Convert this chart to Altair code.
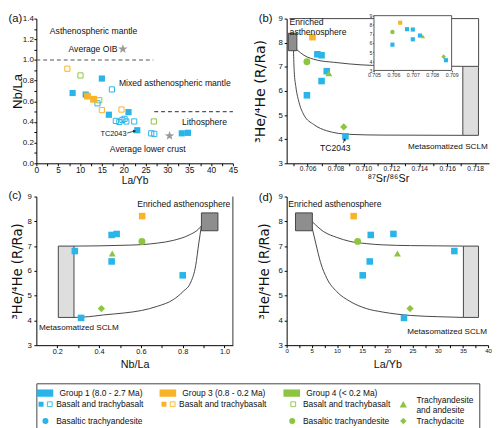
import altair as alt
import pandas as pd

FONT = "Liberation Sans"
VFONT = "DejaVu Sans"
INK = "#111111"
BLUE = "#29B5E9"
ORANGE = "#F8B326"
GREEN = "#8DC540"
STAR_GRAY = "#9A9A9A"
CURVE = "#454545"
BOX_DARK = "#8E8E8E"
BOX_LIGHT = "#DEDEDE"
BOX_EDGE = "#444444"
STAR = ("M0,-1L0.235,-0.324L0.951,-0.309L0.38,0.124L0.588,0.809L0,0.4"
        "L-0.588,0.809L-0.38,0.124L-0.951,-0.309L-0.235,-0.324Z")
SWATCH = "M-1,-0.44L1,-0.44L1,0.44L-1,0.44Z"

# ---------------- (a) La/Yb vs Nb/La ----------------
a_g1f_x = [8.3, 11.3, 15.0, 16.6, 21.1, 23.1, 33.3, 34.7]
a_g1f_y = [0.68, 0.665, 0.82, 0.47, 0.495, 0.32, 0.29, 0.295]
a_g1o_x = [17.3, 14.0, 18.2, 19.0, 19.7, 20.2, 20.6, 22.4, 26.3, 27.0]
a_g1o_y = [0.715, 0.58, 0.41, 0.40, 0.42, 0.43, 0.405, 0.405, 0.29, 0.285]
a_g3f_x = [11.7, 13.1]
a_g3f_y = [0.65, 0.62]
a_g3o_x = [7.1, 15.0, 19.5]
a_g3o_y = [0.915, 0.515, 0.52]
a_g4o_x = [10.1, 14.4, 26.9]
a_g4o_y = [0.85, 0.61, 0.405]
a_star_x = [19.8, 30.5]
a_star_y = [1.105, 0.265]
a_dash_hi_x = [0, 26.8]
a_dash_hi_y = [1.0, 1.0]
a_dash_lo_x = [27.0, 45]
a_dash_lo_y = [0.5, 0.5]
a_lab_c_text = ["Asthenospheric mantle", "Mixed asthenospheric mantle", "Lithosphere", "Average lower crust"]
a_lab_c_x = [13.1, 31.7, 38.5, 25.5]
a_lab_c_y = [1.28, 0.773, 0.40, 0.142]
a_oib_text = ["Average OIB"]
a_oib_x = [18.6]
a_oib_y = [1.105]
a_tc_text = ["TC2043"]
a_tc_x = [17.65]
a_tc_y = [0.28]
a_arrow_x = [20.8, 22.5]
a_arrow_y = [0.293, 0.312]
a_xticks = [0, 2.5, 5, 7.5, 10, 12.5, 15, 17.5, 20, 22.5, 25, 27.5, 30, 32.5, 35, 37.5, 40, 42.5, 45]
a_yticks = [0.0, 0.1, 0.2, 0.3, 0.4, 0.5, 0.6, 0.7, 0.8, 0.9, 1.0, 1.1, 1.2, 1.3, 1.4]

# ---------------- (b) 87Sr/86Sr vs 3He/4He ----------------
b_g1_x = [0.70670, 0.70700, 0.70737, 0.70700, 0.70595, 0.70871]
b_g1_y = [7.52, 7.48, 6.82, 6.41, 5.82, 4.12]
b_g3_x = [0.70635]
b_g3_y = [8.23]
b_circ_x = [0.70595]
b_circ_y = [7.21]
b_tri_x = [0.70752]
b_tri_y = [6.73]
b_dia_x = [0.70859]
b_dia_y = [4.51]
b_upper_x = [0.70523, 0.70574, 0.70667, 0.70784, 0.70901, 0.71064, 0.7140, 0.71712]
b_upper_y = [7.71, 7.48, 7.28, 7.19, 7.12, 7.06, 7.035, 7.02]
b_lower_x = [0.70499, 0.70504, 0.70516, 0.70539, 0.70574, 0.70644, 0.70737, 0.70901, 0.71134, 0.71712]
b_lower_y = [7.67, 6.82, 6.17, 5.52, 5.00, 4.61, 4.35, 4.20, 4.17, 4.16]
b_frame_x = [0.7047, 0.71825, 0.71825]
b_frame_y = [9.0, 9.0, 7.02]
b_enr_box = [0.70462, 0.70523, 7.67, 8.39]
b_sclm_box = [0.71712, 0.71824, 4.16, 7.02]
b_lab_l_text = ["Enriched", "asthenosphere"]
b_lab_l_x = [0.70471, 0.70471]
b_lab_l_y = [8.84, 8.45]
b_lab_r_text = ["Metasomatized SCLM"]
b_lab_r_x = [0.7189]
b_lab_r_y = [3.66]
b_tc_text = ["TC2043"]
b_tc_x = [0.70798]
b_tc_y = [3.64]
b_arrow_x = [0.70856, 0.70866]
b_arrow_y = [3.85, 3.99]
b_xticks = [0.705, 0.706, 0.707, 0.708, 0.709, 0.710, 0.711, 0.712, 0.713, 0.714, 0.715, 0.716, 0.717, 0.718]
he_ticks = [3, 3.5, 4, 4.5, 5, 5.5, 6, 6.5, 7, 7.5, 8, 8.5, 9]
inset_xticks = [0.705, 0.706, 0.707, 0.708, 0.709]
inset_yticks = [3, 4, 5, 6, 7, 8, 9]

# ---------------- (c) Nb/La vs 3He/4He ----------------
c_g1_x = [0.284, 0.314, 0.46, 0.484, 0.46, 0.80]
c_g1_y = [6.80, 4.10, 7.45, 7.49, 6.38, 5.82]
c_g3_x = [0.606]
c_g3_y = [8.21]
c_circ_x = [0.605]
c_circ_y = [7.19]
c_tri_x = [0.463]
c_tri_y = [6.70]
c_dia_x = [0.411]
c_dia_y = [4.48]
c_upper_x = [0.28, 0.40, 0.50, 0.603, 0.679, 0.755, 0.831, 0.875, 0.8895]
c_upper_y = [7.00, 7.01, 7.03, 7.06, 7.12, 7.23, 7.45, 7.68, 7.82]
c_lower_x = [0.28, 0.35, 0.42, 0.52, 0.603, 0.679, 0.755, 0.801, 0.839, 0.862, 0.877, 0.8895]
c_lower_y = [4.12, 4.15, 4.22, 4.30, 4.40, 4.57, 4.84, 5.16, 5.55, 6.21, 7.12, 7.82]
c_enr_box = [0.8895, 0.9685, 7.62, 8.34]
c_sclm_box = [0.205, 0.28, 4.12, 7.0]
c_edge_x = [1.04]
c_edge_y = [3]
c_edge_y2 = [9]
c_lab_r_text = ["Enriched asthenosphere"]
c_lab_r_x = [1.028]
c_lab_r_y = [8.69]
c_lab_l_text = ["Metasomatized SCLM"]
c_lab_l_x = [0.113]
c_lab_l_y = [3.68]
c_xticks = [0.2, 0.3, 0.4, 0.5, 0.6, 0.7, 0.8, 0.9, 1.0]

# ---------------- (d) La/Yb vs 3He/4He ----------------
d_g1_x = [33.3, 23.3, 16.7, 21.2, 16.5, 15.1]
d_g1_y = [6.80, 4.10, 7.45, 7.49, 6.38, 5.82]
d_g3_x = [13.3]
d_g3_y = [8.21]
d_circ_x = [14.1]
d_circ_y = [7.19]
d_tri_x = [22.0]
d_tri_y = [6.70]
d_dia_x = [24.5]
d_dia_y = [4.48]
d_upper_x = [5.1, 7.38, 9.96, 12.56, 15.8, 19.0, 24.6, 30.0, 35.1]
d_upper_y = [7.98, 7.58, 7.35, 7.19, 7.10, 7.05, 7.02, 7.01, 7.00]
d_lower_x = [5.1, 5.77, 6.73, 8.02, 9.96, 12.56, 15.8, 19.0, 24.6, 30.0, 35.1]
d_lower_y = [7.70, 7.12, 6.34, 5.68, 5.16, 4.77, 4.48, 4.34, 4.20, 4.15, 4.12]
d_enr_box = [1.75, 5.1, 7.62, 8.34]
d_sclm_box = [35.1, 38.1, 4.12, 7.0]
d_lab_l_text = ["Enriched asthenosphere"]
d_lab_l_x = [0.33]
d_lab_l_y = [8.69]
d_lab_r_text = ["Metasomatized SCLM"]
d_lab_r_x = [39.8]
d_lab_r_y = [3.53]
d_xticks = [0, 2.5, 5, 7.5, 10, 12.5, 15, 17.5, 20, 22.5, 25, 27.5, 30, 32.5, 35, 37.5, 40]

# ---------------- legend ----------------
leg_head_text = ["Group 1 (8.0 - 2.7 Ma)", "Group 3 (0.8 - 0.2 Ma)", "Group 4 (< 0.2 Ma)"]
leg_head_col = [0, 1, 2]
leg_head_color = [BLUE, ORANGE, GREEN]
leg_item_text = ["Basalt and trachybasalt", "Basalt and trachybasalt", "Basalt and trachybasalt",
                 "Basaltic trachyandesite", "Basaltic trachyandesite", "Trachydacite"]
leg_item_col = [0, 1, 2, 0, 2, 3]
leg_item_row = [1, 1, 1, 2, 2, 2]
leg_wrap_text = ["Trachyandesite\nand andesite"]
leg_wrap_col = [3]
leg_wrap_row = [1]

W_A, W_B, W_C, W_D = 201, 207, 201, 206
H_TOP, H_BOT = 148, 152
LEG_W, LEG_H = 453, 46
TAG_X = -28.5
IN_TOP, IN_BOT = -3, 53


def axis(values, expr, title, lsize, tsize, fmt, tfont=FONT, tpad=0, lpad=1, tick=2.5, **kw):
    return alt.Axis(values=values, labelExpr=expr, format=fmt, title=title,
                    labelFont=FONT, labelFontSize=lsize, titleFont=tfont, titleFontSize=tsize,
                    titleFontWeight="normal", titlePadding=tpad, labelPadding=lpad,
                    tickSize=tick, labelFlush=False, labelOverlap=False, grid=False,
                    domainColor="black", tickColor="black", labelColor=INK,
                    titleColor=INK, **kw)


def xy(xs, ys, xax, yax):
    return dict(x=alt.X("x:Q", scale=xs, axis=xax), y=alt.Y("y:Q", scale=ys, axis=yax))


def points(xv, yv, e, shape, color, size, filled=True, sw=1.0):
    d = pd.DataFrame({"x": xv, "y": yv})
    if filled:
        m = alt.Chart(d).mark_point(shape=shape, filled=True, color=color, size=size, opacity=1)
    else:
        m = alt.Chart(d).mark_point(shape=shape, filled=False, color=color, size=size,
                                    opacity=1, strokeWidth=sw)
    return m.encode(**e)


def line(xv, yv, e, color=CURVE, width=1.0, dash=None, interp="monotone"):
    d = pd.DataFrame({"x": xv, "y": yv, "i": list(range(len(xv)))})
    kw = dict(color=color, strokeWidth=width, interpolate=interp)
    if dash:
        kw["strokeDash"] = dash
    return alt.Chart(d).mark_line(**kw).encode(order="i:Q", **e)


def box(b, e, fill, stroke=BOX_EDGE):
    d = pd.DataFrame({"x": [b[0]], "x2": [b[1]], "y": [b[2]], "y2": [b[3]]})
    return alt.Chart(d).mark_rect(fill=fill, stroke=stroke, strokeWidth=1).encode(
        x2="x2:Q", y2="y2:Q", **e)


def label(texts, xv, yv, e, align="center", size=8.8):
    d = pd.DataFrame({"x": xv, "y": yv, "t": texts})
    return alt.Chart(d).mark_text(align=align, baseline="middle", font=FONT, fontSize=size,
                                  color=INK).encode(text="t:N", **e)


def tag(t, dy):
    return alt.Chart(pd.DataFrame({"t": [t]})).mark_text(
        align="left", baseline="middle", font=FONT, fontSize=11.5, color=INK).encode(
        text="t:N", x=alt.value(TAG_X), y=alt.value(dy))


def arrowhead(xv, yv, e, angle, size=12):
    d = pd.DataFrame({"x": xv, "y": yv})
    return alt.Chart(d).mark_point(shape="triangle-up", filled=True, color="#222", size=size,
                                   angle=angle, opacity=1).encode(**e)


def sym_layers(e, g1x, g1y, g3x, g3y, cx, cy, tx, ty, dx_, dy_, sq=45, sc=1.0):
    return [
        points(g1x, g1y, e, "square", BLUE, sq * sc),
        points(g3x, g3y, e, "square", ORANGE, sq * sc),
        points(cx, cy, e, "circle", GREEN, 50 * sc),
        points(tx, ty, e, "triangle-up", GREEN, 50 * sc),
        points(dx_, dy_, e, "diamond", GREEN, 55 * sc),
    ]


Y_EXPR = "datum.value % 1 === 0 ? datum.label : ''"

# ---- panel a ----
xs_a = alt.Scale(domain=[0, 45], nice=False, zero=False)
ys_a = alt.Scale(domain=[0, 1.4], nice=False, zero=False)
ea = xy(xs_a, ys_a,
        axis(a_xticks, "datum.value % 5 === 0 ? datum.label : ''", "La/Yb", 8.5, 10.5, "d",
             tpad=2, lpad=0),
        axis(a_yticks, "round(datum.value * 10) % 2 === 0 ? datum.label : ''", "Nb/La", 8.2,
             13.5, ".1f", tpad=-2.2, lpad=0.5))
panel_a = alt.layer(
    line(a_dash_hi_x, a_dash_hi_y, ea, color="#555", width=1.1, dash=[4, 3], interp="linear"),
    line(a_dash_lo_x, a_dash_lo_y, ea, color="#555", width=1.1, dash=[4, 3], interp="linear"),
    points(a_g3o_x, a_g3o_y, ea, "square", ORANGE, 28, filled=False),
    points(a_g4o_x, a_g4o_y, ea, "square", GREEN, 28, filled=False),
    points(a_g1o_x, a_g1o_y, ea, "square", BLUE, 28, filled=False),
    points(a_g1f_x, a_g1f_y, ea, "square", BLUE, 40),
    points(a_g3f_x, a_g3f_y, ea, "square", ORANGE, 48),
    points(a_star_x, a_star_y, ea, STAR, STAR_GRAY, 100),
    label(a_lab_c_text, a_lab_c_x, a_lab_c_y, ea),
    label(a_oib_text, a_oib_x, a_oib_y, ea, align="right"),
    label(a_tc_text, a_tc_x, a_tc_y, ea, size=7.5),
    line(a_arrow_x, a_arrow_y, ea, color="#222", width=0.8, interp="linear"),
    arrowhead(a_arrow_x[1:], a_arrow_y[1:], ea, 75),
    tag("(a)", 0),
).properties(width=W_A, height=H_TOP)

# ---- panel b ----
xs_b = alt.Scale(domain=[0.7045, 0.719], nice=False, zero=False)
ys_b = alt.Scale(domain=[3, 9], nice=False, zero=False)
eb = xy(xs_b, ys_b,
        axis(b_xticks, "round(datum.value * 1000) % 2 === 0 ? datum.label : ''",
             "\u2078\u2077Sr/\u2078\u2076Sr", 6.8, 11, ".3f", tpad=0.8, lpad=0),
        axis(he_ticks, Y_EXPR, "\u00b3He/\u2074He (R/Ra)", 8, 14.5, "d", tfont=VFONT,
             tpad=11, lpad=2))
b_main = alt.layer(
    line(b_frame_x, b_frame_y, eb, interp="linear"),
    line(b_upper_x, b_upper_y, eb),
    line(b_lower_x, b_lower_y, eb),
    box(b_enr_box, eb, BOX_DARK),
    box(b_sclm_box, eb, BOX_LIGHT),
    *sym_layers(eb, b_g1_x, b_g1_y, b_g3_x, b_g3_y, b_circ_x, b_circ_y, b_tri_x, b_tri_y,
                b_dia_x, b_dia_y),
    label(b_lab_l_text, b_lab_l_x, b_lab_l_y, eb, align="left"),
    label(b_lab_r_text, b_lab_r_x, b_lab_r_y, eb, align="right", size=8.3),
    label(b_tc_text, b_tc_x, b_tc_y, eb, size=8.8),
    line(b_arrow_x, b_arrow_y, eb, color="#222", width=0.8, interp="linear"),
    arrowhead(b_arrow_x[1:], b_arrow_y[1:], eb, 22, size=10),
    tag("(b)", 0),
)
xs_in = alt.Scale(domain=[0.705, 0.709], range=[89.3, 168.7], nice=False, zero=False)
ys_in = alt.Scale(domain=[3, 9], range=[IN_BOT, IN_TOP], nice=False, zero=False)
in_ax_common = dict(labelFont=FONT, labelFontSize=5.3, labelPadding=0.5, tickSize=1.5,
                    labelFlush=False, labelOverlap=False, grid=False, domain=False,
                    tickColor="#444", labelColor="#333", title=None)
ein = dict(
    x=alt.X("x:Q", scale=xs_in, axis=alt.Axis(values=inset_xticks, format=".3f", orient="bottom",
                                              offset=-(H_TOP - IN_BOT), **in_ax_common)),
    y=alt.Y("y:Q", scale=ys_in, axis=alt.Axis(values=inset_yticks, format="d", orient="left",
                                              offset=-89.3, **in_ax_common)))
b_inset = alt.layer(
    box([0.705, 0.709, 3, 9], ein, "white", stroke="#555"),
    *sym_layers(ein, b_g1_x, b_g1_y, b_g3_x, b_g3_y, b_circ_x, b_circ_y, b_tri_x, b_tri_y,
                b_dia_x, b_dia_y, sc=0.4),
)
panel_b = alt.layer(b_main, b_inset).resolve_scale(x="independent", y="independent").properties(
    width=W_B, height=H_TOP)

# ---- panel c ----
xs_c = alt.Scale(domain=[0.1, 1.04], nice=False, zero=False)
ys_c = alt.Scale(domain=[3, 9], nice=False, zero=False)
ec = xy(xs_c, ys_c,
        axis(c_xticks, "round(datum.value * 10) % 2 === 0 ? datum.label : ''", "Nb/La", 7.5, 11,
             ".1f", tpad=3, lpad=0.5),
        axis(he_ticks, Y_EXPR, "\u00b3He/\u2074He (R/Ra)", 8, 13.5, "d", tfont=VFONT,
             tpad=3, lpad=2.5))
c_edge = alt.Chart(pd.DataFrame({"x": c_edge_x, "y": c_edge_y, "y2": c_edge_y2})).mark_rule(
    color="#333", strokeWidth=1).encode(y2="y2:Q", **ec)
panel_c = alt.layer(
    c_edge,
    line(c_upper_x, c_upper_y, ec),
    line(c_lower_x, c_lower_y, ec),
    box(c_enr_box, ec, BOX_DARK),
    box(c_sclm_box, ec, BOX_LIGHT),
    *sym_layers(ec, c_g1_x, c_g1_y, c_g3_x, c_g3_y, c_circ_x, c_circ_y, c_tri_x, c_tri_y,
                c_dia_x, c_dia_y),
    label(c_lab_r_text, c_lab_r_x, c_lab_r_y, ec, align="right"),
    label(c_lab_l_text, c_lab_l_x, c_lab_l_y, ec, align="left", size=8.3),
    tag("(c)", -1),
).properties(width=W_C, height=H_BOT)

# ---- panel d ----
xs_d = alt.Scale(domain=[0, 40], nice=False, zero=False)
ys_d = alt.Scale(domain=[3, 9], nice=False, zero=False)
ed = xy(xs_d, ys_d,
        axis(d_xticks, "datum.value % 5 === 0 ? datum.label : ''", "La/Yb", 6.3, 11, "d",
             tpad=4.4, lpad=0.4),
        axis(he_ticks, Y_EXPR, "\u00b3He/\u2074He (R/Ra)", 8, 13.5, "d", tfont=VFONT,
             tpad=6.9, lpad=2))
panel_d = alt.layer(
    line(d_upper_x, d_upper_y, ed),
    line(d_lower_x, d_lower_y, ed),
    box(d_enr_box, ed, BOX_DARK),
    box(d_sclm_box, ed, BOX_LIGHT),
    *sym_layers(ed, d_g1_x, d_g1_y, d_g3_x, d_g3_y, d_circ_x, d_circ_y, d_tri_x, d_tri_y,
                d_dia_x, d_dia_y),
    label(d_lab_l_text, d_lab_l_x, d_lab_l_y, ed, align="left"),
    label(d_lab_r_text, d_lab_r_x, d_lab_r_y, ed, align="right", size=8.3),
    tag("(d)", 1.5),
).properties(width=W_D, height=H_BOT)

# ---- legend ----
lx = alt.X("col:Q", scale=alt.Scale(domain=[0, 1, 2, 3], range=[20.3, 146, 272.7, 388.7]),
           axis=None)
ly = alt.Y("row:Q", scale=alt.Scale(domain=[0, 1, 2], range=[10, 21.4, 38.5]), axis=None)


def leg_sym(cols, rows, colors, shape, size, off, filled=True):
    d = pd.DataFrame({"col": cols, "row": rows, "c": colors})
    if filled:
        m = alt.Chart(d).mark_point(shape=shape, filled=True, size=size, opacity=1)
    else:
        m = alt.Chart(d).mark_point(shape=shape, filled=False, size=size, opacity=1,
                                    strokeWidth=0.9)
    return m.encode(x=lx, y=ly, color=alt.Color("c:N", scale=None), xOffset=alt.value(off))


def leg_text(cols, rows, texts, dx=0, dy=0):
    d = pd.DataFrame({"col": cols, "row": rows, "t": texts})
    return alt.Chart(d).mark_text(align="left", baseline="middle", font=FONT, fontSize=8.6,
                                  color=INK, dx=dx, dy=dy, lineBreak="\n",
                                  lineHeight=10.2).encode(x=lx, y=ly, text="t:N")


# invisible anchor so the legend's left edge lines up with the panels' left overhang
leg_anchor = alt.Chart(pd.DataFrame({"t": [""]})).mark_point(
    size=1, opacity=0, filled=True).encode(x=alt.value(TAG_X + 0.5), y=alt.value(LEG_H / 2))

legend = alt.layer(
    leg_anchor,
    leg_sym(leg_head_col, [0, 0, 0], leg_head_color, SWATCH, 289, -11.5),
    leg_text(leg_head_col, [0, 0, 0], leg_head_text, dx=3.3),
    leg_text(leg_item_col, leg_item_row, leg_item_text),
    leg_text(leg_wrap_col, leg_wrap_row, leg_wrap_text, dy=-4.6),
    leg_sym([0, 1], [1, 1], [BLUE, ORANGE], "square", 26, -15.5),
    leg_sym([0, 1], [1, 1], [BLUE, ORANGE], "square", 24, -6.6, filled=False),
    leg_sym([2], [1], [GREEN], "square", 24, -10, filled=False),
    leg_sym([0, 2], [2, 2], [BLUE, GREEN], "circle", 38, -11),
    leg_sym([3], [1], [GREEN], "triangle-up", 55, -13.4),
    leg_sym([3], [2], [GREEN], "diamond", 45, -13.4),
).properties(width=LEG_W, height=LEG_H, view=alt.ViewBackground(stroke="#444", strokeWidth=1))

grid = alt.concat(panel_a, panel_b, panel_c, panel_d, columns=2, bounds="flush", align="each",
                  spacing={"row": 34, "column": 55})
chart = alt.vconcat(grid, legend, spacing=13).properties(
    padding={"left": 0, "top": 0, "right": 0, "bottom": 0}, background="white"
).configure_view(stroke=None)

chart.save("out.html", embed_options={"renderer": "svg", "actions": False})
